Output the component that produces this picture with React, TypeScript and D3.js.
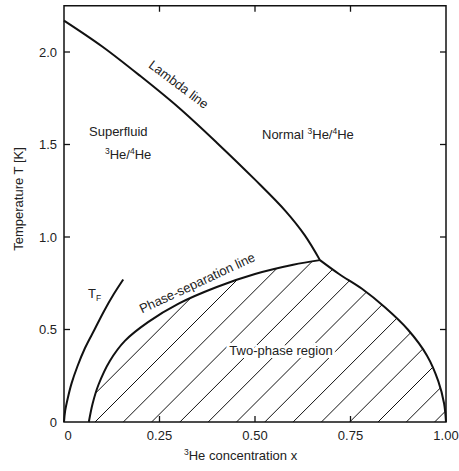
import React from "react";
import * as d3 from "d3";

const lambdaX = [0, 0.1, 0.2, 0.3, 0.4, 0.5, 0.58, 0.63, 0.67];
const lambdaT = [2.17, 2.03, 1.87, 1.70, 1.51, 1.31, 1.14, 1.01, 0.875];

const sepLeftX = [0.065, 0.075, 0.09, 0.12, 0.16, 0.22, 0.3, 0.4, 0.5, 0.6, 0.67];
const sepLeftT = [0, 0.1, 0.2, 0.33, 0.44, 0.54, 0.64, 0.73, 0.80, 0.85, 0.875];

const sepRightX = [0.67, 0.72, 0.78, 0.84, 0.9, 0.95, 0.98, 0.995, 1.0];
const sepRightT = [0.875, 0.80, 0.72, 0.62, 0.50, 0.36, 0.22, 0.1, 0];

const tfX = [0, 0.003, 0.01, 0.02, 0.035, 0.055, 0.08, 0.105, 0.13, 0.155];
const tfT = [0, 0.06, 0.13, 0.21, 0.30, 0.40, 0.50, 0.60, 0.69, 0.77];

const xTicks = [0, 0.25, 0.5, 0.75, 1.0];
const xTickLabels = ["0", "0.25", "0.50", "0.75", "1.00"];
const yTicks = [0, 0.5, 1.0, 1.5, 2.0];
const yTickLabels = ["0", "0.5", "1.0", "1.5", "2.0"];

const W = 459;
const H = 471;
const FONT = "'Liberation Sans', Arial, Helvetica, sans-serif";
const FS = 13;
const SUP = 8.5;

export default function App() {
  const x = d3.scaleLinear().domain([0, 1]).range([64, 446]);
  const y = d3.scaleLinear().domain([0, 2.25]).range([422, 5.75]);

  const zip = (xs: number[], ts: number[]) => xs.map((v, i) => [v, ts[i]] as [number, number]);
  const line = d3
    .line<[number, number]>()
    .x((d) => x(d[0]))
    .y((d) => y(d[1]))
    .curve(d3.curveCatmullRom.alpha(0.5));

  const lambdaPts = zip(lambdaX, lambdaT);
  const leftPts = zip(sepLeftX, sepLeftT);
  const rightPts = zip(sepRightX, sepRightT);
  const tfPts = zip(tfX, tfT);

  const leftPath = line(leftPts) as string;
  const rightPath = line(rightPts) as string;
  const regionPath = leftPath + "L" + rightPath.slice(1) + "Z";

  const [x0, x1] = x.range();
  const [y0, y1] = y.range();

  const hatch: React.ReactNode[] = [];
  const spacing = 28.3;
  for (let k = -2; k < 20; k++) {
    const bx = 95 + k * spacing;
    hatch.push(
      <line key={k} x1={bx} y1={y0} x2={bx + 200} y2={y0 - 200} stroke="#111" strokeWidth={1} />
    );
  }

  const tickLen = 6;

  return (
    <svg
      width={W}
      height={H}
      style={{ position: "absolute", left: 0, top: 0, background: "#fff" }}
      fontFamily={FONT}
    >
      <defs>
        <clipPath id="region">
          <path d={regionPath} />
        </clipPath>
      </defs>
      <rect x={0} y={0} width={W} height={H} fill="#fff" />

      <g clipPath="url(#region)">{hatch}</g>

      <rect x={x0} y={y1} width={x1 - x0} height={y0 - y1} fill="none" stroke="#111" strokeWidth={1.5} />

      {xTicks.slice(1, -1).map((t) => (
        <g key={"xt" + t}>
          <line x1={x(t)} x2={x(t)} y1={y0} y2={y0 - tickLen} stroke="#111" strokeWidth={1.3} />
          <line x1={x(t)} x2={x(t)} y1={y1} y2={y1 + tickLen} stroke="#111" strokeWidth={1.3} />
        </g>
      ))}
      {yTicks.slice(1).map((t) => (
        <g key={"yt" + t}>
          <line x1={x0} x2={x0 + tickLen} y1={y(t)} y2={y(t)} stroke="#111" strokeWidth={1.3} />
          <line x1={x1} x2={x1 - tickLen} y1={y(t)} y2={y(t)} stroke="#111" strokeWidth={1.3} />
        </g>
      ))}

      {xTicks.map((t, i) => (
        <text key={"xl" + t} x={x(t) + (i === 0 ? 4 : 0)} y={y0 + 18} fontSize={FS} textAnchor="middle" fill="#222">
          {xTickLabels[i]}
        </text>
      ))}
      {yTicks.map((t, i) => (
        <text key={"yl" + t} x={x0 - 7} y={y(t) + 4.5} fontSize={FS} textAnchor="end" fill="#222">
          {yTickLabels[i]}
        </text>
      ))}

      <path d={line(lambdaPts) as string} fill="none" stroke="#111" strokeWidth={2} />
      <path d={leftPath} fill="none" stroke="#111" strokeWidth={2} />
      <path d={rightPath} fill="none" stroke="#111" strokeWidth={2} />
      <path d={line(tfPts) as string} fill="none" stroke="#111" strokeWidth={2} />

      <text x={184} y={460} fontSize={FS} fill="#222">
        <tspan fontSize={SUP} dy={-5}>3</tspan>
        <tspan dy={5}>He concentration x</tspan>
      </text>
      <text transform="translate(23,199) rotate(-90)" fontSize={FS} textAnchor="middle" fill="#222">
        Temperature T [K]
      </text>

      <text transform="translate(176,88) rotate(37)" fontSize={FS} textAnchor="middle" fill="#222">
        Lambda line
      </text>
      <text x={262} y={139} fontSize={FS} fill="#222">
        Normal <tspan fontSize={SUP} dy={-5}>3</tspan>
        <tspan dy={5}>He/</tspan>
        <tspan fontSize={SUP} dy={-5}>4</tspan>
        <tspan dy={5}>He</tspan>
      </text>
      <text x={89} y={136} fontSize={FS} fill="#222">Superfluid</text>
      <text x={105} y={159} fontSize={FS} fill="#222">
        <tspan fontSize={SUP} dy={-5}>3</tspan>
        <tspan dy={5}>He/</tspan>
        <tspan fontSize={SUP} dy={-5}>4</tspan>
        <tspan dy={5}>He</tspan>
      </text>
      <text x={88} y={298} fontSize={FS} fill="#222">
        T<tspan fontSize={SUP} dy={3}>F</tspan>
      </text>
      <text transform="translate(199,287) rotate(-25)" fontSize={FS} textAnchor="middle" fill="#222">
        Phase-separation line
      </text>
      <text
        x={281}
        y={355}
        fontSize={FS}
        textAnchor="middle"
        fill="#222"
        stroke="#fff"
        strokeWidth={6}
        paintOrder="stroke"
      >
        Two-phase region
      </text>
    </svg>
  );
}
